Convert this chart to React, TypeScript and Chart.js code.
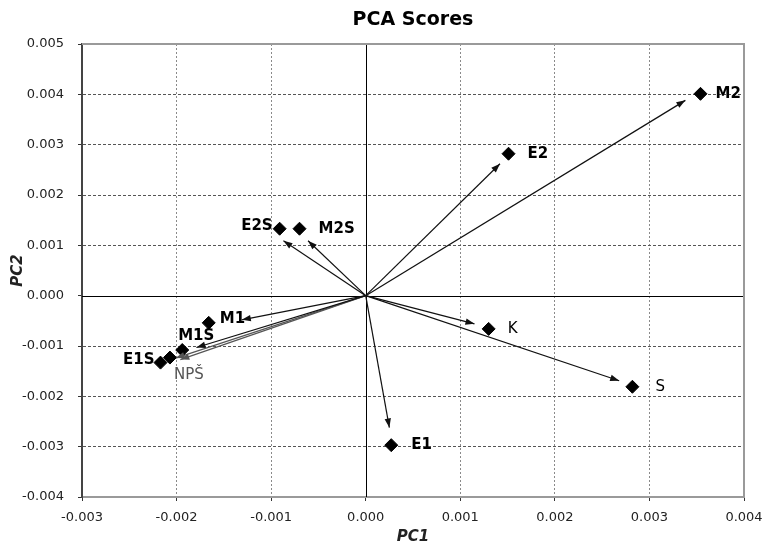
import React, { useEffect, useRef } from 'react';
import { Chart, registerables } from 'chart.js';

Chart.register(...registerables);

// ---------- data ----------
const titleText = 'PCA Scores';
const xTitle = 'PC1';
const yTitle = 'PC2';
const names = ['M2', 'E2', 'E2S', 'M2S', 'M1', 'M1S', 'NPŠ', 'E1S', 'K', 'S', 'E1'];
const pc1 = [0.00354, 0.00151, -0.00091, -0.0007, -0.00166, -0.00194, -0.00207, -0.00217, 0.0013, 0.00282, 0.00027];
const pc2 = [0.00401, 0.00282, 0.00133, 0.00133, -0.00054, -0.00108, -0.00123, -0.00133, -0.00066, -0.00181, -0.00297];
// arrow tips (arrows start at the origin)
const arrowPc1 = [0.00338, 0.00142, -0.00087, -0.00061, -0.00131, -0.00179, -0.00196, -0.00201, 0.00115, 0.00268, 0.00025];
const arrowPc2 = [0.00388, 0.00262, 0.00109, 0.00109, -0.00048, -0.00103, -0.00127, -0.00124, -0.00056, -0.00169, -0.00262];
const xTicks = [-0.003, -0.002, -0.001, 0, 0.001, 0.002, 0.003, 0.004];
const yTicks = [-0.004, -0.003, -0.002, -0.001, 0, 0.001, 0.002, 0.003, 0.004, 0.005];

// ---------- styles ----------
type LS = { dx: number; dy: number; align: CanvasTextAlign; bold: boolean; color: string; arrow: string };
const labelStyle: Record<string, LS> = {
  M2: { dx: 15, dy: 0, align: 'left', bold: true, color: '#000', arrow: '#111' },
  E2: { dx: 19, dy: 0, align: 'left', bold: true, color: '#000', arrow: '#111' },
  E2S: { dx: -7, dy: -3, align: 'right', bold: true, color: '#000', arrow: '#111' },
  M2S: { dx: 19, dy: 0, align: 'left', bold: true, color: '#000', arrow: '#111' },
  M1: { dx: 11, dy: -4, align: 'left', bold: true, color: '#000', arrow: '#111' },
  M1S: { dx: 14, dy: -14, align: 'center', bold: true, color: '#000', arrow: '#111' },
  'NPŠ': { dx: 4, dy: 18, align: 'left', bold: false, color: '#555', arrow: '#555' },
  E1S: { dx: -6, dy: -3, align: 'right', bold: true, color: '#000', arrow: '#555' },
  K: { dx: 19, dy: 0, align: 'left', bold: false, color: '#000', arrow: '#111' },
  S: { dx: 23, dy: 0, align: 'left', bold: false, color: '#000', arrow: '#111' },
  E1: { dx: 20, dy: 0, align: 'left', bold: true, color: '#000', arrow: '#111' },
};
const FONT = '"DejaVu Sans", "Liberation Sans", Arial, sans-serif';

const fmt = (v: number) => (Math.abs(v) < 1e-9 ? '0.000' : v.toFixed(3));

const decorPlugin = {
  id: 'decor',
  beforeDatasetsDraw(chart: any) {
    const { ctx, chartArea: a, scales } = chart;
    const x0 = scales.x.getPixelForValue(0);
    const y0 = scales.y.getPixelForValue(0);
    ctx.save();
    ctx.strokeStyle = '#000';
    ctx.lineWidth = 1;
    ctx.beginPath();
    ctx.moveTo(Math.round(x0) + 0.5, a.top);
    ctx.lineTo(Math.round(x0) + 0.5, a.bottom);
    ctx.moveTo(a.left, Math.round(y0) + 0.5);
    ctx.lineTo(a.right, Math.round(y0) + 0.5);
    ctx.stroke();
    // top and right frame
    ctx.strokeStyle = '#9a9a9a';
    ctx.lineWidth = 2;
    ctx.beginPath();
    ctx.moveTo(a.left, a.top);
    ctx.lineTo(a.right, a.top);
    ctx.lineTo(a.right, a.bottom);
    ctx.stroke();
    ctx.restore();
  },
  afterDatasetsDraw(chart: any) {
    const { ctx, scales } = chart;
    const xs = scales.x;
    const ys = scales.y;
    const ox = xs.getPixelForValue(0);
    const oy = ys.getPixelForValue(0);
    ctx.save();
    names.forEach((n, i) => {
      const st = labelStyle[n];
      const tx = xs.getPixelForValue(arrowPc1[i]);
      const ty = ys.getPixelForValue(arrowPc2[i]);
      const ang = Math.atan2(ty - oy, tx - ox);
      const len = 9;
      const half = 3.2;
      const bx = tx - len * Math.cos(ang);
      const by = ty - len * Math.sin(ang);
      ctx.fillStyle = st.arrow;
      ctx.beginPath();
      ctx.moveTo(tx, ty);
      ctx.lineTo(bx + half * Math.sin(ang), by - half * Math.cos(ang));
      ctx.lineTo(bx - half * Math.sin(ang), by + half * Math.cos(ang));
      ctx.closePath();
      ctx.fill();
    });
    names.forEach((n, i) => {
      const st = labelStyle[n];
      const px = xs.getPixelForValue(pc1[i]);
      const py = ys.getPixelForValue(pc2[i]);
      ctx.font = `${st.bold ? 'bold ' : ''}15px ${FONT}`;
      ctx.fillStyle = st.color;
      ctx.textAlign = st.align;
      ctx.textBaseline = 'middle';
      ctx.fillText(n, px + st.dx, py + st.dy);
    });
    ctx.restore();
  },
};

export default function App() {
  const ref = useRef<HTMLCanvasElement | null>(null);
  useEffect(() => {
    if (!ref.current) return;
    const arrowSets = names.map((n, i) => ({
      type: 'scatter' as const,
      label: 'arrow ' + n,
      data: [
        { x: 0, y: 0 },
        { x: arrowPc1[i], y: arrowPc2[i] },
      ],
      showLine: true,
      borderColor: labelStyle[n].arrow,
      borderWidth: 1.2,
      pointRadius: 0,
      order: 2,
    }));
    const chart = new Chart(ref.current, {
      type: 'scatter',
      data: {
        datasets: [
          {
            label: 'scores',
            data: pc1.map((x, i) => ({ x, y: pc2[i] })),
            pointStyle: 'rectRot',
            pointRadius: 6.5,
            backgroundColor: '#000',
            borderColor: '#000',
            borderWidth: 1,
            order: 1,
          },
          ...arrowSets,
        ],
      },
      options: {
        animation: false,
        responsive: true,
        maintainAspectRatio: false,
        layout: { padding: { left: 0, right: 22, top: 0, bottom: 0 } },
        plugins: {
          legend: { display: false },
          tooltip: { enabled: false },
          title: {
            display: true,
            text: titleText,
            fullSize: false,
            color: '#000',
            font: { family: FONT, size: 19, weight: 'bold' },
            padding: { top: 9, bottom: 12.2 },
          },
        },
        scales: {
          x: {
            type: 'linear',
            min: -0.003,
            max: 0.004,
            afterBuildTicks: (s: any) => {
              s.ticks = xTicks.map((v) => ({ value: v }));
            },
            afterFit: (s: any) => {
              s.height = 49;
              s.paddingLeft = 0;
              s.paddingRight = 0;
            },
            ticks: {
              callback: (v: any) => fmt(Number(v)),
              color: '#222',
              padding: 9,
              maxRotation: 0,
              font: { family: FONT, size: 13 },
            },
            grid: {
              color: (c: any) => (c.tick && Math.abs(c.tick.value) < 1e-9 ? 'rgba(0,0,0,0)' : '#8a8a8a'),
              tickColor: '#333',
              tickLength: 4,
              lineWidth: 1,
            },
            border: { display: true, color: '#9a9a9a', width: 2, dash: [2, 2] },
            title: {
              display: true,
              text: xTitle,
              color: '#222',
              font: { family: FONT, size: 15, weight: 'bold', style: 'italic' },
              padding: { top: 0, bottom: 0 },
            },
          },
          y: {
            type: 'linear',
            min: -0.004,
            max: 0.005,
            afterBuildTicks: (s: any) => {
              s.ticks = yTicks.map((v) => ({ value: v }));
            },
            afterFit: (s: any) => {
              s.width = 82;
              s.paddingTop = 0;
              s.paddingBottom = 0;
            },
            ticks: {
              callback: (v: any) => fmt(Number(v)),
              color: '#222',
              padding: 14,
              font: { family: FONT, size: 13 },
            },
            grid: {
              color: (c: any) => (c.tick && Math.abs(c.tick.value) < 1e-9 ? 'rgba(0,0,0,0)' : '#555'),
              tickColor: '#333',
              tickLength: 4,
              lineWidth: 1,
            },
            border: { display: true, color: '#444', width: 2, dash: [3, 2] },
            title: {
              display: true,
              text: yTitle,
              color: '#222',
              font: { family: FONT, size: 15, weight: 'bold', style: 'italic' },
              padding: { top: 9, bottom: 0 },
            },
          },
        },
      },
      plugins: [decorPlugin],
    } as any);
    return () => chart.destroy();
  }, []);
  return (
    <div style={{ position: 'fixed', left: 0, top: 0, width: 766, height: 546, background: '#fff' }}>
      <canvas ref={ref} />
    </div>
  );
}
